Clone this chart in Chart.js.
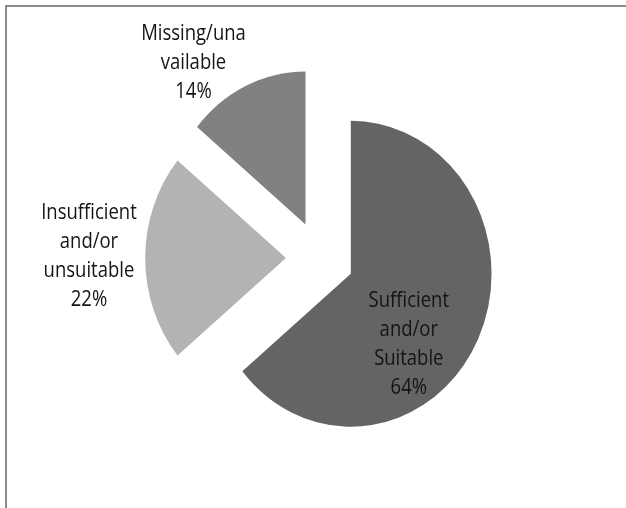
<!DOCTYPE html>
<html>
<head>
<meta charset="utf-8">
<script src="https://cdn.jsdelivr.net/npm/chart.js@4.4.0/dist/chart.umd.min.js"></script>
<style>
  html, body { margin: 0; padding: 0; background: #ffffff; }
  #wrap { position: relative; width: 626px; height: 508px; overflow: hidden; }
  #frame {
    position: absolute; left: 5px; top: 5px; width: 640px; height: 520px;
    border-top: 2px solid #8a8a8a; border-left: 2px solid #8a8a8a;
  }
  #chart { position: absolute; left: 0; top: 0; }
</style>
</head>
<body>
<div id="wrap">
  <div id="frame"></div>
  <canvas id="chart" width="626" height="508"></canvas>
</div>
<script>
// Share of responses per category (percent), clockwise from 12 o'clock
const categories = ['Sufficient and/or Suitable', 'Insufficient and/or unsuitable', 'Missing/unavailable'];
const shares = [64, 22, 14];
// Label text as wrapped on the chart
const labelLines = [
  ['Sufficient', 'and/or', 'Suitable'],
  ['Insufficient', 'and/or', 'unsuitable'],
  ['Missing/una', 'vailable']
];
const sliceColors = ['#646464', '#b3b3b3', '#818181'];

// Label placement relative to each exploded slice's tip (pixels)
const labelNudge = [[58, 71], [-197, -1], [-112, -162]];

const SQUASH_X = 0.92;     // pie is slightly narrower than tall
const TEXT_SQUASH = 0.88;  // narrow label face
const EXPLODE = 37;        // how far each slice is pulled out (px)

// Draw every slice pulled out along its bisector, with the pie
// squeezed horizontally around its centre
const explodePlugin = {
  id: 'explode',
  beforeDatasetsDraw(chart) {
    const ctx = chart.ctx;
    const meta = chart.getDatasetMeta(0);
    const cx = meta.data[0].x;
    ctx.save();
    ctx.translate(cx, 0);
    ctx.scale(SQUASH_X, 1);
    ctx.translate(-cx, 0);
    meta.data.forEach(arc => {
      const mid = (arc.startAngle + arc.endAngle) / 2;
      ctx.save();
      ctx.translate(Math.cos(mid) * EXPLODE, Math.sin(mid) * EXPLODE);
      arc.draw(ctx, chart.chartArea);
      ctx.restore();
    });
    ctx.restore();
    return false;
  }
};

// Category / percentage labels
const labelPlugin = {
  id: 'sliceLabels',
  afterDraw(chart) {
    const ctx = chart.ctx;
    const meta = chart.getDatasetMeta(0);
    ctx.save();
    ctx.fillStyle = '#141414';
    ctx.font = '21px "Open Sans"';
    ctx.textAlign = 'center';
    ctx.textBaseline = 'middle';
    meta.data.forEach((arc, i) => {
      const mid = (arc.startAngle + arc.endAngle) / 2;
      const tipX = arc.x + Math.cos(mid) * EXPLODE * SQUASH_X;
      const tipY = arc.y + Math.sin(mid) * EXPLODE;
      const lines = labelLines[i].concat([shares[i] + '%']);
      const lh = 29;
      const x = tipX + labelNudge[i][0];
      const y0 = tipY + labelNudge[i][1] - (lines.length - 1) * lh / 2;
      lines.forEach((t, k) => {
        ctx.save();
        ctx.translate(x, y0 + k * lh);
        ctx.scale(TEXT_SQUASH, 1);
        ctx.fillText(t, 0, 0);
        ctx.restore();
      });
    });
    ctx.restore();
  }
};

new Chart(document.getElementById('chart'), {
  type: 'pie',
  data: {
    labels: categories,
    datasets: [{
      data: shares,
      backgroundColor: sliceColors,
      borderWidth: 0,
      offset: 0,
      hoverOffset: 0
    }]
  },
  options: {
    responsive: false,
    devicePixelRatio: 1,
    animation: false,
    events: [],
    radius: 153,
    layout: { padding: { left: 14, right: 0, top: 8, bottom: 0 } },
    plugins: {
      legend: { display: false },
      tooltip: { enabled: false }
    }
  },
  plugins: [explodePlugin, labelPlugin]
});
</script>
</body>
</html>
